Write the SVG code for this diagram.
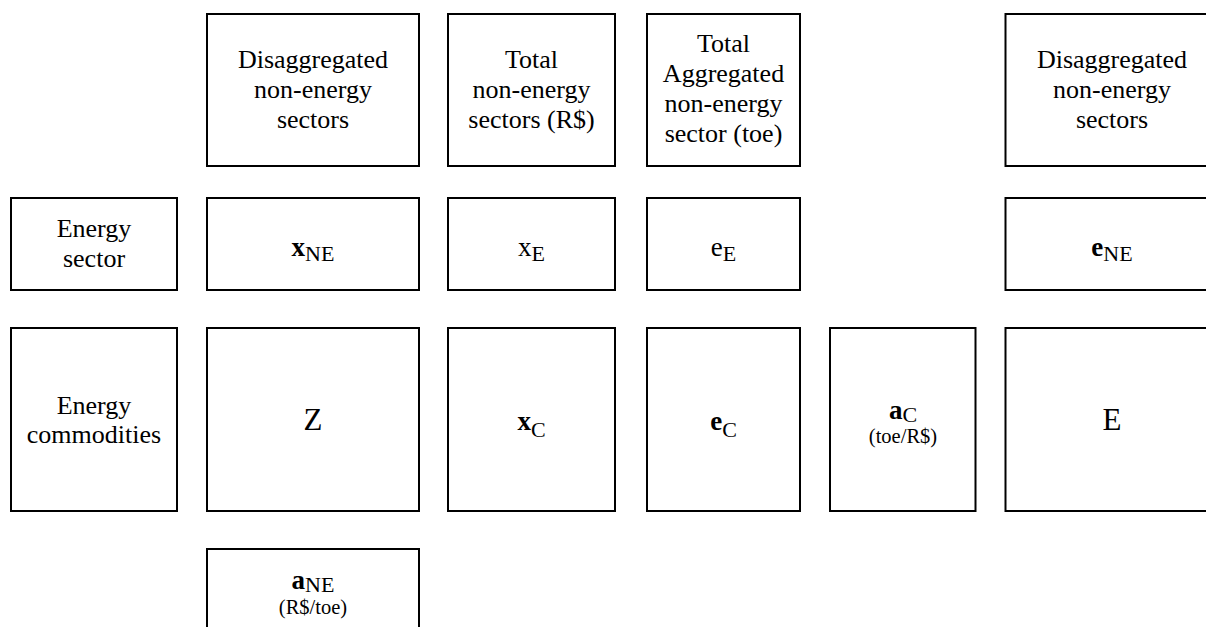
<svg xmlns="http://www.w3.org/2000/svg" width="1206" height="627" viewBox="0 0 1206 627">
<style>
.box{fill:#fff;stroke:#000;stroke-width:2}
text{font-family:"Liberation Serif","Tinos","DejaVu Serif","Noto Serif",serif;fill:#000;text-anchor:middle}
.t{font-size:26px}
.m{font-size:27px}
.b{font-weight:bold}
.s{font-size:22px;font-weight:normal}
.big{font-size:31px}
.u{font-size:20.5px}
</style>
<rect x="0" y="0" width="1206" height="627" fill="#fff"/>
<g id="h-disagg1">
<rect class="box" x="207" y="14" width="212" height="152"/>
<text class="t" x="313" y="68">Disaggregated</text>
<text class="t" x="313" y="98">non-energy</text>
<text class="t" x="313" y="128">sectors</text>
</g>
<g id="h-total">
<rect class="box" x="448" y="14" width="167" height="152"/>
<text class="t" x="531.5" y="68">Total</text>
<text class="t" x="531.5" y="98">non-energy</text>
<text class="t" x="531.5" y="128">sectors (R$)</text>
</g>
<g id="h-totalagg">
<rect class="box" x="647" y="14" width="153" height="152"/>
<text class="t" x="723.5" y="52">Total</text>
<text class="t" x="723.5" y="82">Aggregated</text>
<text class="t" x="723.5" y="112">non-energy</text>
<text class="t" x="723.5" y="142">sector (toe)</text>
</g>
<g id="h-disagg2">
<rect class="box" x="1005.5" y="14" width="213" height="152"/>
<text class="t" x="1112" y="68">Disaggregated</text>
<text class="t" x="1112" y="98">non-energy</text>
<text class="t" x="1112" y="128">sectors</text>
</g>
<g id="r-energysector">
<rect class="box" x="11" y="198" width="166" height="92"/>
<text class="t" x="94" y="237">Energy</text>
<text class="t" x="94" y="267">sector</text>
</g>
<g id="xNE">
<rect class="box" x="207" y="198" width="212" height="92"/>
<text class="m" x="313" y="256"><tspan class="b">x</tspan><tspan class="s" dy="5">NE</tspan></text>
</g>
<g id="xE">
<rect class="box" x="448" y="198" width="167" height="92"/>
<text class="m" x="531.5" y="256">x<tspan class="s" dy="5">E</tspan></text>
</g>
<g id="eE">
<rect class="box" x="647" y="198" width="153" height="92"/>
<text class="m" x="723.5" y="256">e<tspan class="s" dy="5">E</tspan></text>
</g>
<g id="eNE">
<rect class="box" x="1005.5" y="198" width="213" height="92"/>
<text class="m" x="1112" y="256"><tspan class="b">e</tspan><tspan class="s" dy="5">NE</tspan></text>
</g>
<g id="r-energycomm">
<rect class="box" x="11" y="328" width="166" height="183"/>
<text class="t" x="94" y="414">Energy</text>
<text class="t" x="94" y="443">commodities</text>
</g>
<g id="Z">
<rect class="box" x="207" y="328" width="212" height="183"/>
<text class="big" x="313" y="430">Z</text>
</g>
<g id="xC">
<rect class="box" x="448" y="328" width="167" height="183"/>
<text class="m" x="531.5" y="430"><tspan class="b">x</tspan><tspan class="s" dy="7">C</tspan></text>
</g>
<g id="eC">
<rect class="box" x="647" y="328" width="153" height="183"/>
<text class="m" x="723.5" y="430"><tspan class="b">e</tspan><tspan class="s" dy="7">C</tspan></text>
</g>
<g id="aC">
<rect class="box" x="830" y="328" width="145.5" height="183"/>
<text class="m" x="903" y="419"><tspan class="b">a</tspan><tspan class="s" dy="3">C</tspan></text>
<text class="u" x="903" y="443">(toe/R$)</text>
</g>
<g id="E">
<rect class="box" x="1005.5" y="328" width="213" height="183"/>
<text class="big" x="1112" y="430">E</text>
</g>
<g id="aNE">
<rect class="box" x="207" y="549" width="212" height="100"/>
<text class="m" x="313" y="589"><tspan class="b">a</tspan><tspan class="s" dy="3">NE</tspan></text>
<text class="u" x="313" y="614">(R$/toe)</text>
</g>
<g id="connectors"></g>
</svg>
